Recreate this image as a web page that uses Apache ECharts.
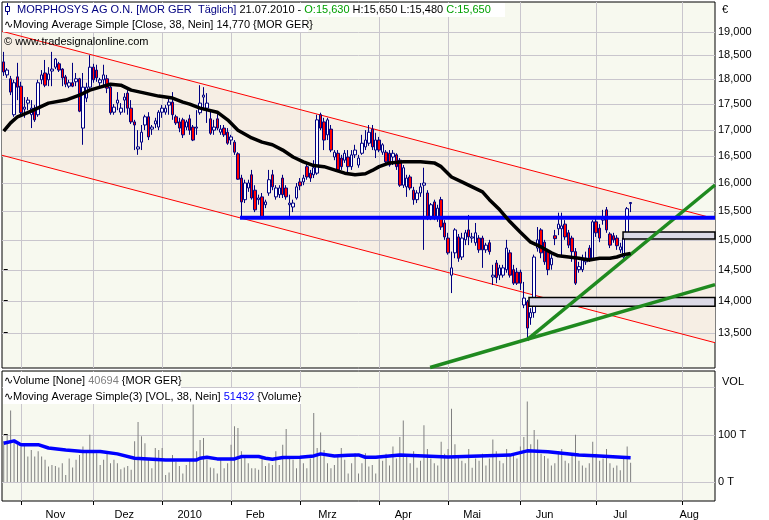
<!DOCTYPE html>
<html><head><meta charset="utf-8">
<script src="https://cdn.jsdelivr.net/npm/echarts@6/dist/echarts.min.js"></script>
<style>html,body{margin:0;padding:0;background:#fff;}#c{width:769px;height:520px;}</style>
</head><body><div id="c"></div>
<script>
const FONT = '"Liberation Sans", Arial, sans-serif';
const SLOTS = 207;
const slotCats = Array.from({length: SLOTS}, (_, i) => String(i));

// candles: [open, close, low, high]
const candles = [
[18360,18150,18070,18570],[18090,18190,18030,18230],[18010,17740,17680,18070],[17290,17930,17250,17990],
[18050,17840,17580,18340],[17860,17330,17270,17950],[17400,17440,17230,17640],[17520,17580,17380,17640],
[17290,17420,17030,17580],[17420,17190,17150,17480],[17290,17930,17250,17990],[17990,18090,17900,18190],
[18130,17880,17840,18400],[17990,18110,17860,18250],[18170,18210,17860,18570],[18250,18420,18210,18440],
[18320,18190,18150,18360],[18210,18030,17860,18230],[18050,17900,17840,18090],[17860,17930,17820,17990],
[17930,17860,17840,18340],[17950,18010,17860,18130],[18010,17360,17340,18030],[17030,17840,16710,18130],
[17620,17840,17540,17930],[17840,18250,17780,18500],[18250,17990,17930,18320],[18190,18030,17950,18300],
[17930,17990,17860,18030],[17990,18090,17860,18300],[18010,17820,17720,18090],[17840,17330,17290,17880],
[17340,17440,17290,17500],[17520,17580,17380,17740],[17340,17420,17290,17520],[17580,17640,17330,17720],
[17720,17420,17290,17780],[17420,17150,17110,17580],[17150,17090,16610,17190],[16630,16670,16520,16990],
[16760,16950,16610,17090],[17090,17250,16990,17290],[17250,16860,16800,17340],[17010,17050,16900,17090],
[17110,17170,17030,17230],[17050,17340,16990,17380],[17340,17420,17230,17480],[17340,17420,17290,17480],
[17480,17540,17290,17620],[17540,17290,17190,17740],[17250,17130,17090,17290],[17150,17030,16950,17230],
[17190,16900,16840,17230],
[17050,17150,16990,17190],[17210,16990,16900,17290],[17050,16800,16780,17090],[17030,17050,16900,17380],
[17330,17520,17290,17880],[17640,17680,17380,17840],[17420,17520,17130,17720],[17210,16930,16900,17380],
[16990,17050,16900,17190],[17210,17030,16990,17340],[16950,17010,16900,17090],[17030,16900,16860,17090],
[16950,16740,16710,17030],[16800,16860,16710,16900],[16760,16570,16520,16800],[16540,16070,16060,16570],
[16090,15660,15380,16150],[15700,16000,15640,16060],[15910,16000,15840,16060],[16150,15730,15700,16240],
[15870,15520,15480,15960],[15700,15730,15610,15790],[15750,15400,15380,15820],[15610,15660,15550,15700],
[15820,16060,15770,16240],[16150,15930,15870,16240],[15750,15910,15700,15960],[15790,15910,15730,15960],
[16090,15790,15730,16150],[15910,15750,15700,15960],[15610,15640,15380,15790],[15570,15640,15480,15700],
[15730,15930,15700,16000],[16020,15950,15870,16090],[16020,16090,15960,16150],[16300,16110,16060,16370],
[16180,16090,16020,16240],[16150,16280,16090,16420],[16180,17190,16150,17290],[17290,17030,16990,17330],
[17150,16800,16610,17230],[16900,17190,16800,17230],[17010,16610,16570,17090],[16480,16570,16420,16610],
[16550,16240,16200,16610],[16460,16300,16240,16520],[16420,16550,16370,16610],[16480,16300,16180,16610],
[16300,16520,16240,16610],[16520,16610,16460,16710],[16330,16460,16280,16520],[16550,16740,16520,16900],
[16670,16800,16610,16990],[16740,16950,16690,17090],[17010,16670,16610,17090],
[16610,16800,16460,16940],[16800,16610,16570,16860],[16570,16710,16520,16740],[16570,16390,16330,16610],
[16550,16330,16300,16610],[16480,16550,16330,16610],[16520,16300,16240,16550],[16420,15960,15930,16460],
[15960,16280,15910,16330],[15930,16090,15750,16150],[16110,15910,15870,16150],[15870,15700,15610,15930],
[15700,15820,15640,15870],[15820,15930,15750,16000],[15960,16000,14830,16280],[15820,15400,15340,15870],
[15400,15610,15340,15640],[15660,15380,15340,15700],[15400,15550,15310,15610],[15700,15220,15170,15750],
[15290,15050,15000,15340],[15030,14780,14750,15120],[14410,14530,14120,14800],[14780,15170,14690,15200],
[15050,14690,14630,15100],[14710,15030,14660,15120],[15000,15120,14910,15170],[15170,15050,14910,15430],
[15030,15050,14950,15120],[14950,15120,14900,15290],[15030,14830,14780,15080],[15030,14830,14530,15070],
[14830,14910,14780,14950],[14950,14800,14750,15000],[14380,14410,14250,14580],[14610,14370,14280,14660],
[14410,14530,14330,14580],[14410,14530,14370,14580],[14500,14860,14450,15000],[14780,14410,14370,14830],
[14500,14280,14250,14580],[14460,14280,14250,14530],[14460,14280,14170,14500],[13930,14040,13880,14300],
[13980,13570,13390,14010],[13730,13810,13620,13880],[13810,14710,13730,14750],[14860,15000,14800,15220],
[15170,14780,14690,15200],[14960,14630,14580,15000],[14800,14500,14410,14830],[14580,14690,14500,14750],
[15070,15020,14910,15170],[15190,15270,15080,15470],[15190,15240,14710,15470],[15270,15050,15000,15340],
[15120,14910,14860,15170],[15030,14800,14630,15070],[14800,14280,14250,14860],[14500,14550,14450,14630],
[14500,14660,14460,14750],[14630,14690,14580,14800],[14860,14690,14630,14910],[14690,15310,14660,15340],
[15310,15120,15050,15380],[15200,15030,14960,15270],[15340,15400,15260,15520],[15520,15170,15120,15570],
[15100,14910,14860,15130],[15070,15000,14950,15120],[15030,14900,14830,15080],[14830,14880,14780,14950],
[14710,15030,14630,15080],[15070,15540,15030,15570],[15630,15650,15480,15650]
];

// Moving average (38, close): [slot, value]
const maPoints = [[0,16970],[2,17130],[4,17250],[8,17360],[13,17520],[18,17580],[22,17680],[25,17780],[28,17840],
[31,17900],[34,17880],[37,17780],[41,17720],[45,17660],[49,17620],[52,17540],[54,17500],[57,17420],[62,17340],
[65,17190],[68,16990],[72,16840],[75,16760],[78,16710],[81,16610],[84,16480],[87,16390],[90,16320],[93,16300],
[96,16240],[99,16180],[102,16150],[105,16170],[107,16230],[109,16300],[112,16370],[116,16390],[121,16390],
[125,16370],[127,16300],[130,16110],[133,16020],[136,15930],[139,15840],[141,15700],[144,15520],[147,15310],
[150,15130],[153,14960],[156,14880],[159,14780],[161,14730],[164,14710],[167,14690],[170,14660],[173,14690],
[176,14690],[178,14710],[180,14750],[182,14770]];

// Volume in thousands (T)
const volume = [86,100,151,86,79,75,82,54,68,54,65,54,47,33,36,34,31,40,15,50,31,47,57,75,65,100,65,61,36,47,
65,40,47,40,27,31,34,26,86,127,97,82,47,29,72,68,72,15,20,57,43,34,18,36,47,164,65,89,93,47,31,29,18,47,29,40,
79,118,114,65,54,40,29,29,26,54,34,40,36,65,36,79,112,50,47,29,54,40,29,50,146,72,105,68,40,29,36,54,72,47,
18,40,61,18,40,61,33,36,18,48,
45,60,35,75,50,95,130,55,40,65,30,45,120,70,50,40,35,85,60,70,155,80,55,45,40,70,30,50,45,60,35,50,90,65,45,
40,70,55,60,50,75,95,170,80,110,90,60,55,50,35,40,65,70,45,40,55,100,45,35,30,40,85,60,45,50,70,40,30,35,25,
50,75,40.694];

const volMaPoints = [[0,82],[3,87],[5,79],[10,79],[13,72],[18,68],[23,64.5],[28,64.5],[33,59.6],[38,50.4],[42,49],
[47,46.8],[52,46.8],[56,46.8],[57,50.4],[59,52.5],[62,49],[67,49],[69,53.9],[74,53.9],[76,50.4],[78,48.2],[81,51.8],
[86,52.5],[90,55.3],[92,59.6],[96,55.3],[100,56.7],[103,57.4],[105,52.5],[108,52.5],[115,57],[129,53],[138,55],
[147,57],[152,66],[158,64],[167,57],[173,55],[182,51.432]];

const priceTicks = [13500,14000,14500,15000,15500,16000,16500,17000,17500,18000,18500,19000];
const volTicks = [0,100];
const volGridValues = [0,100,200];
const monthTickIdx = [5,26,46,66,86,109,129,150,172,197];
const monthLabelIdx = [15,35,54,73,94,116,136,157,179,199];
const monthLabels = ['Nov','Dez','2010','Feb','Mrz','Apr','Mai','Jun','Jul','Aug'];

// drawings (slot, price)
const channelUpper = [[-0.5,19010],[206.5,15364]];
const channelLower = [[-0.5,16512],[206.5,13346]];
const supportLine = [[68.6,15380],[206.5,15380]];
const trendSteep = [[151.9,13388],[206.5,15964]];
const trendFlat = [[123.8,12975],[206.5,14257]];
const gapBoxes = [[[152.5,14050],[206.5,13910]],[[179.8,15135],[206.5,15015]]];

const fmt = v => String(v).replace(/\B(?=(\d{3})+(?!\d))/g, ',');
const GRIDC = '#C9C6CD';

function bgPrice(params, api) {
  const cs = params.coordSys;
  const p = a => api.coord(a);
  const ch = [];
  ch.push({type:'polygon', shape:{points:[p(channelUpper[0]),p(channelUpper[1]),p(channelLower[1]),p(channelLower[0])]}, style:{fill:'#F6EEE4'}});
  priceTicks.forEach(v => { const y = Math.round(p([0,v])[1]) + 0.5;
    ch.push({type:'line', shape:{x1:cs.x,y1:y,x2:cs.x+cs.width,y2:y}, style:{stroke:GRIDC,lineWidth:1}}); });
  monthTickIdx.forEach(i => { const x = Math.round(p([i,15000])[0]) + 0.5;
    ch.push({type:'line', shape:{x1:x,y1:cs.y,x2:x,y2:cs.y+cs.height}, style:{stroke:GRIDC,lineWidth:1}}); });
  [channelUpper, channelLower].forEach(l => { const a = p(l[0]), b = p(l[1]);
    ch.push({type:'line', shape:{x1:a[0],y1:a[1],x2:b[0],y2:b[1]}, style:{stroke:'#FF0000',lineWidth:1}}); });
  return {type:'group', children: ch};
}
function drawPrice(params, api) {
  const p = a => api.coord(a);
  const ch = [];
  gapBoxes.forEach(bx => { const a = p(bx[0]), b = p(bx[1]);
    ch.push({type:'rect', shape:{x:a[0],y:a[1],width:b[0]-a[0],height:b[1]-a[1]}, style:{fill:'#DCDAE6',stroke:'#000',lineWidth:1.5}}); });
  [[trendFlat,'#1F8A1F'],[trendSteep,'#1F8A1F']].forEach(([l,c]) => { const a = p(l[0]), b = p(l[1]);
    ch.push({type:'line', shape:{x1:a[0],y1:a[1],x2:b[0],y2:b[1]}, style:{stroke:c,lineWidth:3.5}}); });
  { const a = p(supportLine[0]), b = p(supportLine[1]);
    ch.push({type:'line', shape:{x1:a[0],y1:a[1],x2:b[0],y2:b[1]}, style:{stroke:'#0000FF',lineWidth:4}}); }
  return {type:'group', children: ch};
}
function bgVol(params, api) {
  const cs = params.coordSys;
  const p = a => api.coord(a);
  const ch = [];
  volGridValues.forEach(v => { const y = Math.round(p([0,v])[1]) + 0.5;
    ch.push({type:'line', shape:{x1:cs.x,y1:y,x2:cs.x+cs.width,y2:y}, style:{stroke:GRIDC,lineWidth:1}}); });
  monthTickIdx.forEach(i => { const x = Math.round(p([i,0])[0]) + 0.5;
    ch.push({type:'line', shape:{x1:x,y1:cs.y,x2:x,y2:cs.y+cs.height}, style:{stroke:GRIDC,lineWidth:1}}); });
  return {type:'group', children: ch};
}

const chart = echarts.init(document.getElementById('c'), null, {renderer:'canvas'});
const txt = (x, y, text, extra) => Object.assign({type:'text', x, y, z:100, style:Object.assign({text, font:'11px '+FONT, fill:'#000'}, extra||{})});
chart.setOption({
  animation:false,
  backgroundColor:'#fff',
  grid:[
    {left:2, top:2, width:713, height:366, show:true, backgroundColor:'#F7F9EF', borderColor:'#000', borderWidth:1, outerBoundsMode:'none'},
    {left:2, top:371, width:713, height:130, show:true, backgroundColor:'#F7F9EF', borderColor:'#000', borderWidth:1, outerBoundsMode:'none'}
  ],
  xAxis:[
    {type:'category', gridIndex:0, data:slotCats, boundaryGap:true, show:false},
    {type:'category', gridIndex:1, data:slotCats, boundaryGap:true, show:false},
    {type:'value', gridIndex:0, min:-0.5, max:SLOTS-0.5, show:false, position:'top'},
    {type:'value', gridIndex:1, min:-0.5, max:SLOTS-0.5, position:'bottom',
      axisLine:{show:false}, splitLine:{show:false},
      axisTick:{show:true, customValues:monthTickIdx, length:4, lineStyle:{color:'#000'}},
      axisLabel:{customValues:monthLabelIdx, formatter:v => monthLabels[monthLabelIdx.indexOf(v)] || '',
        fontSize:11, color:'#000', margin:8, fontFamily:'"Liberation Sans Narrow", "Liberation Sans", Arial, sans-serif'}}
  ],
  yAxis:[
    {type:'log', gridIndex:0, min:12968, max:19652, position:'right', axisLine:{show:false}, splitLine:{show:false},
      axisTick:{show:true, customValues:priceTicks, length:4, lineStyle:{color:'#000'}},
      axisLabel:{customValues:priceTicks, formatter:v => fmt(v), fontSize:11, color:'#000', margin:3, fontFamily:FONT}},
    {type:'value', gridIndex:1, min:-40, max:234.7, position:'right', axisLine:{show:false}, splitLine:{show:false},
      axisTick:{show:true, customValues:volTicks, length:4, lineStyle:{color:'#000'}},
      axisLabel:{customValues:volTicks, formatter:v => v + ' T', fontSize:11, color:'#000', margin:3, fontFamily:FONT}}
  ],
  series:[
    {type:'custom', xAxisIndex:2, yAxisIndex:0, z:1, silent:true, data:[[0,15000]], renderItem:bgPrice},
    {type:'candlestick', xAxisIndex:0, yAxisIndex:0, z:3, data:candles, barWidth:3,
      itemStyle:{color:'#FFFFFF', color0:'#FF0000', borderColor:'#000080', borderColor0:'#000080', borderWidth:1}},
    {type:'custom', xAxisIndex:2, yAxisIndex:0, z:4, silent:true, data:[[0,15000]], renderItem:drawPrice},
    {type:'line', xAxisIndex:2, yAxisIndex:0, z:5, data:maPoints, showSymbol:false, smooth:false,
      lineStyle:{color:'#000', width:3.5}},
    {type:'custom', xAxisIndex:3, yAxisIndex:1, z:1, silent:true, data:[[0,0]], renderItem:bgVol},
    {type:'bar', xAxisIndex:1, yAxisIndex:1, z:3, data:volume, barWidth:1, itemStyle:{color:'#808080'}},
    {type:'line', xAxisIndex:3, yAxisIndex:1, z:5, data:volMaPoints, showSymbol:false,
      lineStyle:{color:'#0000FF', width:3.5}}
  ],
  graphic:[
    {type:'rect', z:90, shape:{x:3,y:3,width:502,height:14}, style:{fill:'#fff'}},
    {type:'line', z:95, shape:{x1:7.5,y1:3,x2:7.5,y2:15}, style:{stroke:'#000080',lineWidth:1}},
    {type:'rect', z:96, shape:{x:5.5,y:6.5,width:4,height:5}, style:{fill:'#fff',stroke:'#000080',lineWidth:1}},
    txt(17, 4, '{n|MORPHOSYS AG O.N. [MOR GER  Täglich]} 21.07.2010 - {g|O:15,630} H:15,650 L:15,480 {g|C:15,650}',
      {rich:{n:{fill:'#000080', font:'11px '+FONT}, g:{fill:'#00A000', font:'11px '+FONT}}}),
    {type:'rect', z:90, shape:{x:3,y:17,width:305,height:15}, style:{fill:'#fff'}},
    txt(4, 19, '∿Moving Average Simple [Close, 38, Nein] 14,770 {MOR GER}'),
    txt(4, 36, '© www.tradesignalonline.com'),
    txt(722, 4, '€'),
    {type:'rect', z:90, shape:{x:3,y:372,width:178,height:16}, style:{fill:'#fff'}},
    txt(4, 375, '∿Volume [None] {q|40694} {MOR GER}', {rich:{q:{fill:'#808080', font:'11px '+FONT}}}),
    {type:'rect', z:90, shape:{x:3,y:388,width:298,height:16}, style:{fill:'#fff'}},
    txt(4, 391, '∿Moving Average Simple(3) [VOL, 38, Nein] {b|51432} {Volume}', {rich:{b:{fill:'#0000FF', font:'11px '+FONT}}}),
    txt(722, 376, 'VOL')
  ]
});
</script></body></html>
